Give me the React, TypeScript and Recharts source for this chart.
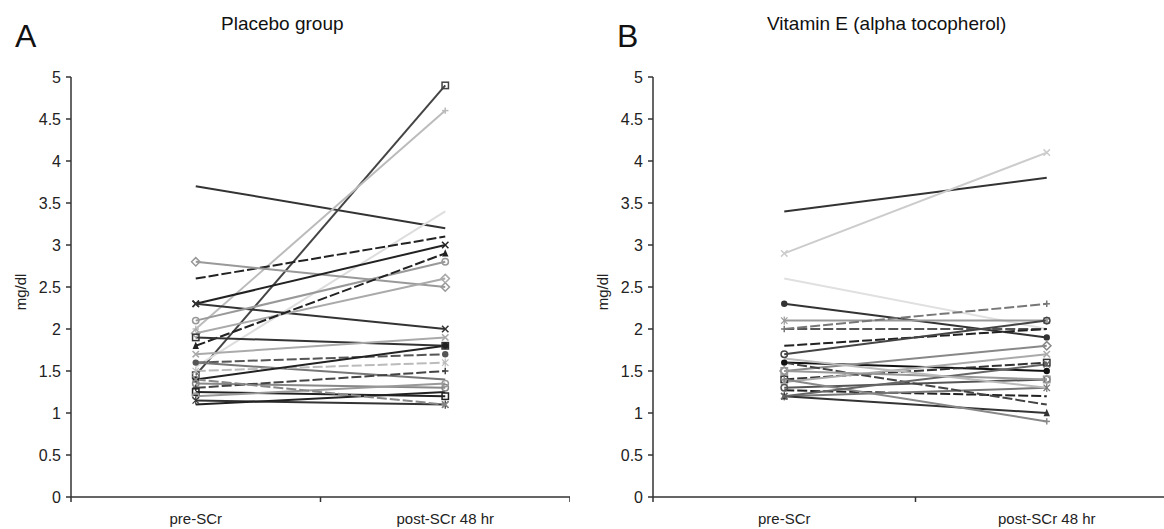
import { LineChart, Line, XAxis, YAxis, Label } from 'recharts';

const CATEGORIES = ['pre-SCr', 'post-SCr 48 hr'];
const Y_TICKS = [0, 0.5, 1, 1.5, 2, 2.5, 3, 3.5, 4, 4.5, 5];
const X_TICKS = [0, 0.5, 1, 1.5, 2];

// serum creatinine (mg/dl), one entry per patient
const placeboPre = [3.7, 1.45, 2.0, 1.55, 2.6, 2.8, 2.3, 2.3, 2.1, 1.95, 1.8, 1.9, 1.7, 1.6, 1.6, 1.5, 1.4, 1.35, 1.3, 1.25, 1.2, 1.15, 1.1, 1.4];
const placeboPost = [3.2, 4.9, 4.6, 3.4, 3.1, 2.5, 3.0, 2.0, 2.8, 2.6, 2.9, 1.8, 1.9, 1.7, 1.4, 1.6, 1.8, 1.3, 1.5, 1.2, 1.35, 1.1, 1.25, 1.1];

const vitEPre = [3.4, 2.9, 2.6, 2.3, 2.1, 2.0, 2.0, 1.8, 1.7, 1.6, 1.5, 1.4, 1.37, 1.3, 1.27, 1.2, 1.2, 1.4, 1.6, 1.5, 1.2, 1.65];
const vitEPost = [3.8, 4.1, 2.0, 1.9, 2.1, 2.0, 2.3, 2.0, 2.1, 1.5, 1.8, 1.6, 1.7, 1.4, 1.2, 1.3, 1.0, 0.9, 1.1, 1.4, 1.58, 1.3];

type Look = { color: string; dash?: string; marker: string };

const placeboLooks: Look[] = [
  { color: '#333', marker: 'none' },
  { color: '#444', marker: 'square' },
  { color: '#bbb', marker: 'plus' },
  { color: '#ddd', marker: 'none' },
  { color: '#222', dash: '10 3', marker: 'none' },
  { color: '#999', marker: 'diamond' },
  { color: '#222', marker: 'x' },
  { color: '#333', marker: 'x' },
  { color: '#999', marker: 'circle' },
  { color: '#aaa', marker: 'diamond' },
  { color: '#222', dash: '10 3', marker: 'triangle' },
  { color: '#333', marker: 'square' },
  { color: '#aaa', marker: 'x' },
  { color: '#555', dash: '10 3', marker: 'dot' },
  { color: '#777', marker: 'none' },
  { color: '#bbb', dash: '10 3', marker: 'star' },
  { color: '#222', marker: 'dot' },
  { color: '#888', marker: 'circle' },
  { color: '#444', dash: '10 3', marker: 'plus' },
  { color: '#222', marker: 'square' },
  { color: '#999', marker: 'circle' },
  { color: '#333', marker: 'star' },
  { color: '#222', marker: 'none' },
  { color: '#888', dash: '10 3', marker: 'x' },
];

const vitELooks: Look[] = [
  { color: '#333', marker: 'none' },
  { color: '#ccc', marker: 'x' },
  { color: '#e0e0e0', marker: 'none' },
  { color: '#333', marker: 'dot' },
  { color: '#999', marker: 'star' },
  { color: '#555', dash: '10 3', marker: 'none' },
  { color: '#777', dash: '10 3', marker: 'plus' },
  { color: '#222', dash: '10 3', marker: 'none' },
  { color: '#444', marker: 'circle' },
  { color: '#111', marker: 'dot' },
  { color: '#888', marker: 'diamond' },
  { color: '#333', dash: '10 3', marker: 'square' },
  { color: '#aaa', marker: 'x' },
  { color: '#555', marker: 'circle' },
  { color: '#222', dash: '10 3', marker: 'none' },
  { color: '#777', marker: 'star' },
  { color: '#333', marker: 'triangle' },
  { color: '#888', marker: 'plus' },
  { color: '#444', dash: '10 3', marker: 'none' },
  { color: '#999', marker: 'square' },
  { color: '#666', marker: 'x' },
  { color: '#bbb', marker: 'none' },
];

const FONT = '"Liberation Sans", Arial, sans-serif';
const AXIS = '#333';

function buildRows(pre: number[], post: number[]) {
  return CATEGORIES.map((label, i) => {
    const row: Record<string, number | string> = { x: i + 0.5, label };
    (i === 0 ? pre : post).forEach((v, k) => {
      row[`p${k}`] = v;
    });
    return row;
  });
}

const Marker = ({ cx, cy, color, shape }: any) => {
  const s = 3.2;
  if (cx == null || cy == null) return null;
  switch (shape) {
    case 'square':
      return <rect x={cx - s} y={cy - s} width={2 * s} height={2 * s} fill="none" stroke={color} strokeWidth={1.5} />;
    case 'diamond':
      return <polygon points={`${cx},${cy - s - 1} ${cx + s + 1},${cy} ${cx},${cy + s + 1} ${cx - s - 1},${cy}`} fill="none" stroke={color} strokeWidth={1.5} />;
    case 'triangle':
      return <polygon points={`${cx},${cy - s - 1} ${cx + s},${cy + s} ${cx - s},${cy + s}`} fill={color} />;
    case 'circle':
      return <circle cx={cx} cy={cy} r={s} fill="none" stroke={color} strokeWidth={1.5} />;
    case 'dot':
      return <circle cx={cx} cy={cy} r={s} fill={color} />;
    case 'x':
      return (
        <g stroke={color} strokeWidth={1.5}>
          <line x1={cx - s} y1={cy - s} x2={cx + s} y2={cy + s} />
          <line x1={cx - s} y1={cy + s} x2={cx + s} y2={cy - s} />
        </g>
      );
    case 'plus':
      return (
        <g stroke={color} strokeWidth={1.5}>
          <line x1={cx - s} y1={cy} x2={cx + s} y2={cy} />
          <line x1={cx} y1={cy - s} x2={cx} y2={cy + s} />
        </g>
      );
    case 'star':
      return (
        <g stroke={color} strokeWidth={1.2}>
          <line x1={cx - s} y1={cy - s} x2={cx + s} y2={cy + s} />
          <line x1={cx - s} y1={cy + s} x2={cx + s} y2={cy - s} />
          <line x1={cx} y1={cy - s - 1} x2={cx} y2={cy + s + 1} />
        </g>
      );
    default:
      return null;
  }
};

const XTick = ({ x, y, payload }: any) => {
  const v = payload.value;
  if (Number.isInteger(v)) {
    return <line x1={x} y1={y} x2={x} y2={y + 5} stroke={AXIS} strokeWidth={1.5} />;
  }
  return (
    <text x={x} y={y + 27} textAnchor="middle" fontSize={15} fontFamily={FONT} fill="#222">
      {CATEGORIES[Math.floor(v)]}
    </text>
  );
};

function Panel({ pre, post, looks, width, left }: { pre: number[]; post: number[]; looks: Look[]; width: number; left: number }) {
  const rows = buildRows(pre, post);
  return (
    <div style={{ position: 'absolute', left, top: 0 }}>
      <LineChart width={width} height={529} data={rows} margin={{ top: 77, right: 0, bottom: 2, left: 40 }}>
        <XAxis
          dataKey="x"
          type="number"
          domain={[0, 2]}
          ticks={X_TICKS}
          interval={0}
          tick={<XTick />}
          tickLine={false}
          tickSize={0}
          tickMargin={0}
          height={30}
          axisLine={{ stroke: AXIS, strokeWidth: 1.5 }}
        />
        <YAxis
          type="number"
          domain={[0, 5]}
          ticks={Y_TICKS}
          interval={0}
          width={31}
          tickSize={5}
          tickMargin={5}
          tickLine={{ stroke: AXIS, strokeWidth: 1.5 }}
          axisLine={{ stroke: AXIS, strokeWidth: 1.5 }}
          tick={{ fontSize: 16, fontFamily: FONT, fill: '#222' }}
        >
          <Label
            content={() => (
              <text
                x={22}
                y={292}
                transform="rotate(-90, 22, 292)"
                textAnchor="middle"
                dominantBaseline="middle"
                fontSize={15}
                fontFamily={FONT}
                fill="#222"
              >
                mg/dl
              </text>
            )}
          />
        </YAxis>
        {looks.map((look, k) => (
          <Line
            key={k}
            type="linear"
            dataKey={`p${k}`}
            stroke={look.color}
            strokeWidth={2}
            strokeDasharray={look.dash}
            dot={(p: any) => (
              <g key={`d${k}-${p.index}`}>
                <Marker cx={p.cx} cy={p.cy} color={look.color} shape={look.marker} />
              </g>
            )}
            activeDot={false}
            isAnimationActive={false}
          />
        ))}
      </LineChart>
    </div>
  );
}

const textStyle = { position: 'absolute' as const, fontFamily: FONT, color: '#111', whiteSpace: 'nowrap' as const };

export default function App() {
  return (
    <div style={{ position: 'absolute', left: 0, top: 0, width: 1164, height: 529, overflow: 'hidden', background: '#fff' }}>
      <Panel pre={placeboPre} post={placeboPost} looks={placeboLooks.slice(0, placeboPre.length)} width={570} left={0} />
      <Panel pre={vitEPre} post={vitEPost} looks={vitELooks.slice(0, vitEPre.length)} width={596} left={582} />
      <div style={{ ...textStyle, left: 15, top: 18, fontSize: 32 }}>A</div>
      <div style={{ ...textStyle, left: 617, top: 18, fontSize: 32 }}>B</div>
      <div style={{ ...textStyle, left: 221, top: 13, fontSize: 19 }}>Placebo group</div>
      <div style={{ ...textStyle, left: 767, top: 13, fontSize: 19 }}>Vitamin E (alpha tocopherol)</div>
    </div>
  );
}
